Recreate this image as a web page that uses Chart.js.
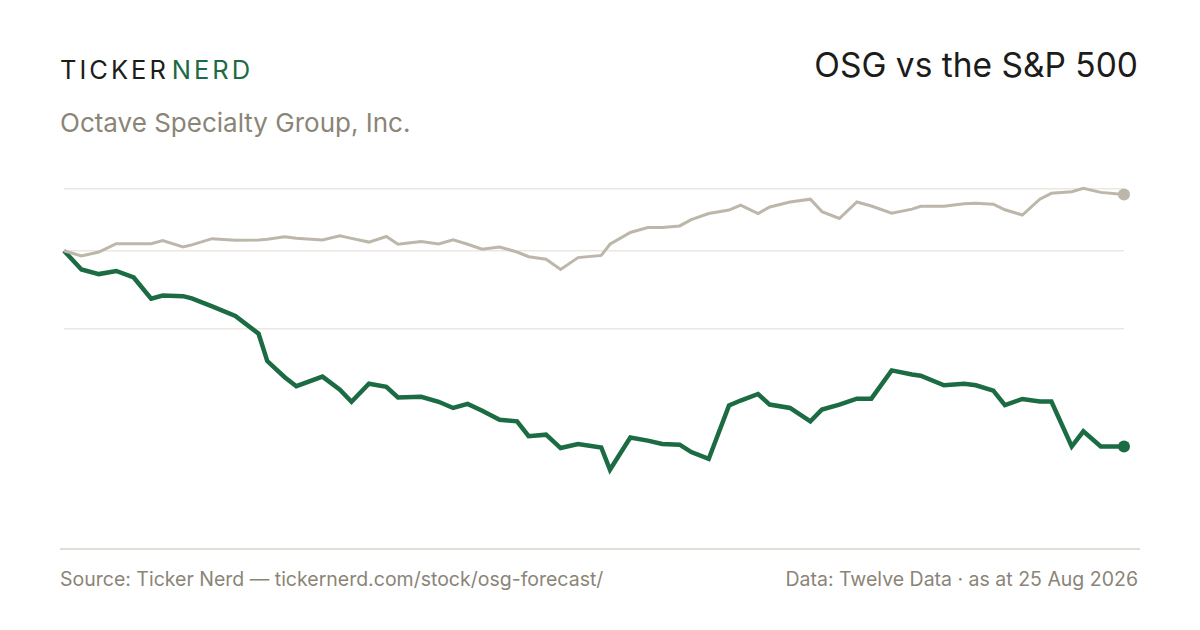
<!DOCTYPE html>
<html lang="en">
<head>
  <meta charset="UTF-8">
  <title>OSG vs the S&amp;P 500</title>
  <script src="https://cdn.jsdelivr.net/npm/chart.js"></script>
  <style>
    body { margin: 0; background: #fff; font-family: Inter, "Noto Sans", sans-serif; }
    #page { position: relative; width: 1200px; height: 630px; overflow: hidden; }
    .logo { position: absolute; left: 60px; top: 57px; font-size: 25.5px; letter-spacing: 3px; color: #1c1c1a; line-height: 1; white-space: nowrap; }
    .logo span { color: #1b6b43; margin-left: 3px; }
    .title { position: absolute; right: 62px; top: 49px; font-size: 33.5px; color: #1c1c1a; line-height: 1; }
    .sub { position: absolute; left: 60px; top: 110px; font-size: 26px; color: #8a8577; line-height: 1; }
    .rule { position: absolute; left: 60px; top: 548px; width: 1080px; height: 2px; background: #e2ded5; }
    .foot { position: absolute; top: 570px; font-size: 19.5px; color: #8a8577; line-height: 1; }
    #wrap { position: absolute; left: 44px; top: 170px; width: 1100px; height: 320px; }
  </style>
</head>
<body>
<div id="page">
  <div class="logo">TICKER<span>NERD</span></div>
  <div class="title">OSG vs the S&amp;P 500</div>
  <div class="sub">Octave Specialty Group, Inc.</div>
  <div id="wrap"><canvas id="chart" width="1100" height="320"></canvas></div>
  <div class="rule"></div>
  <div class="foot" style="left:60px">Source: Ticker Nerd — tickernerd.com/stock/osg-forecast/</div>
  <div class="foot" style="right:62px">Data: Twelve Data · as at 25 Aug 2026</div>
</div>

<script>
  // days since 25 Aug 2025
  const days = [0, 6, 12, 18, 24, 30, 34, 41, 44, 51, 59, 67, 70, 76, 80, 89, 95, 99, 105, 111,
    115, 123, 129, 134, 139, 144, 150, 156, 160, 166, 171, 177, 185, 188, 195, 201, 206, 212, 216, 222,
    229, 233, 239, 243, 250, 257, 261, 267, 273, 278, 285, 292, 295, 303, 310, 314, 320, 324, 330, 336,
    340, 347, 351, 357, 365];

  // % change since start
  const osg = [0, -6.0, -7.5, -6.5, -8.6, -15.4, -14.4, -14.6, -15.3, -17.9, -21.0, -26.7, -35.5, -40.7, -43.6, -40.5, -44.7, -48.6, -42.8, -43.8,
    -47.2, -47.0, -48.6, -50.6, -49.3, -51.5, -54.4, -54.9, -59.7, -59.2, -63.5, -62.2, -63.3, -70.5, -60.1, -61.1, -62.2, -62.4, -64.8, -67.0,
    -49.8, -48.2, -46.1, -49.5, -50.6, -54.9, -51.1, -49.5, -47.6, -47.6, -38.5, -39.8, -40.2, -43.3, -42.8, -43.3, -45.0, -49.7, -47.7, -48.5,
    -48.5, -63.0, -58.1, -63.0, -63.0];

  const spx = [0, -1.7, -0.4, 2.3, 2.3, 2.3, 3.3, 1.2, 1.9, 3.9, 3.4, 3.5, 3.7, 4.5, 4.0, 3.5, 4.8, 4.0, 2.8, 4.6,
    2.1, 3.0, 2.2, 3.5, 2.1, 0.5, 1.2, -0.4, -1.9, -2.7, -6.0, -2.2, -1.5, 2.1, 5.9, 7.5, 7.5, 8.0, 10.0, 12.0,
    13.1, 14.7, 12.0, 14.1, 15.7, 16.6, 12.6, 10.4, 15.7, 14.4, 12.1, 13.4, 14.3, 14.3, 15.1, 15.3, 15.0, 13.2, 11.5, 16.6,
    18.5, 19.0, 20.1, 18.8, 18.1];

  const gridTicks = [-25, 0, 20];

  const green = '#1b6b43';
  const sand = '#bdb6aa';

  function toPoints(vals) {
    return vals.map((v, i) => ({ x: days[i], y: v }));
  }

  // only the last point gets a dot
  function endDot(n) {
    return (ctx) => ctx.dataIndex === n - 1 ? 6 : 0;
  }

  new Chart(document.getElementById('chart'), {
    type: 'line',
    data: {
      datasets: [
        {
          label: 'S&P 500',
          data: toPoints(spx),
          borderColor: sand,
          backgroundColor: sand,
          borderWidth: 3,
          pointRadius: endDot(spx.length),
          pointBorderWidth: 0,
          tension: 0,
          clip: false
        },
        {
          label: 'OSG',
          data: toPoints(osg),
          borderColor: green,
          backgroundColor: green,
          borderWidth: 4.5,
          pointRadius: endDot(osg.length),
          pointBorderWidth: 0,
          tension: 0,
          clip: false
        }
      ]
    },
    options: {
      responsive: false,
      animation: false,
      layout: { autoPadding: false, padding: { left: 20, right: 20, top: 0, bottom: 0 } },
      plugins: { legend: { display: false }, tooltip: { enabled: false } },
      scales: {
        x: {
          type: 'linear',
          min: 0,
          max: 365,
          display: false
        },
        y: {
          min: -77,
          max: 26,
          border: { display: false },
          grid: { color: '#ebe8e1', lineWidth: 1.5, drawTicks: false },
          ticks: { display: false },
          afterBuildTicks: (axis) => { axis.ticks = gridTicks.map(v => ({ value: v })); }
        }
      }
    }
  });
</script>
</body>
</html>
